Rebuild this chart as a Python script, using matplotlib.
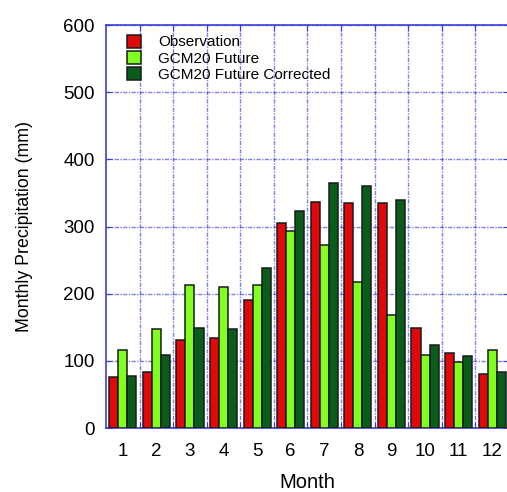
import matplotlib
matplotlib.use("Agg")
import matplotlib.pyplot as plt
import numpy as np

plt.rcParams['font.family'] = ['Liberation Sans', 'DejaVu Sans']

# monthly precipitation (mm)
months = np.arange(1, 13)
observation = [76, 84, 131, 134, 190, 305, 336, 335, 335, 149, 111, 81]
gcm_future = [116, 147, 213, 210, 213, 293, 273, 218, 168, 109, 99, 116]
gcm_corrected = [78, 109, 149, 148, 238, 323, 365, 360, 340, 123, 108, 83]

series = [observation, gcm_future, gcm_corrected]
labels = ["Observation", "GCM20 Future", "GCM20 Future Corrected"]
colors = ["#e00808", "#80ff20", "#0a5c1a"]

blue = "#3c3cdc"

fig = plt.figure(figsize=(5.07, 4.92), dpi=100)
ax = fig.add_axes([0.209, 0.130, 0.795, 0.819])

w = 0.27
for i, (vals, lab, col) in enumerate(zip(series, labels, colors)):
    ax.bar(months + (i - 1) * w, vals, width=w, color=col, edgecolor="#1a1a1a",
           linewidth=1.1, label=lab, zorder=3)

ax.set_xlim(0.5, 12.5)
ax.set_ylim(0, 600)
ax.set_yticks(np.arange(0, 601, 100))

# major ticks sit between months (grid), labels on minor ticks at month centres
ax.set_xticks(np.arange(1.5, 12.5, 1))
ax.set_xticklabels([])
ax.set_xticks(months, minor=True)
ax.set_xticklabels([str(m) for m in months], minor=True)
ax.tick_params(axis='x', which='minor', length=0, labelsize=13.5, pad=11)
ax.tick_params(axis='x', which='major', direction='in', length=4, color=blue, top=True)
ax.tick_params(axis='y', direction='in', length=4, color=blue, labelsize=13.5, pad=8, right=True)

ax.grid(True, which='major', color=blue, linestyle=(0, (3, 1, 1, 1)), linewidth=1.0,
        alpha=0.65, zorder=1)
ax.set_axisbelow(True)
for s in ax.spines.values():
    s.set_color(blue)
    s.set_linewidth(1.2)

ax.set_xlabel("Month", fontsize=14.5, labelpad=9)
ax.set_ylabel("Monthly Precipitation (mm)", fontsize=12.8, labelpad=22)

ax.legend(loc='upper left', frameon=False, fontsize=11, handlelength=0.95,
          handleheight=0.95, handletextpad=1.1, labelspacing=0.1,
          borderaxespad=0.3, bbox_to_anchor=(0.025, 1.003))

fig.savefig("out.png", dpi=100)
